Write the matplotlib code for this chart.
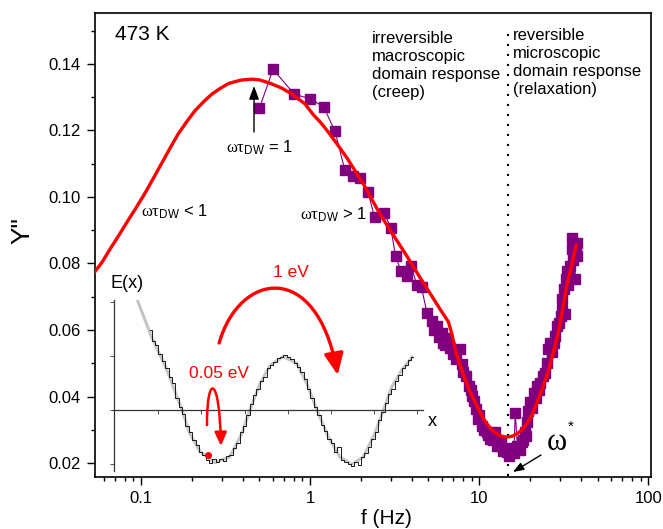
import matplotlib
matplotlib.use('Agg')
import matplotlib.pyplot as plt
from matplotlib.patches import FancyArrowPatch
from matplotlib.path import Path

plt.rcParams['font.family'] = ['Liberation Sans', 'DejaVu Sans']
plt.rcParams['mathtext.fontset'] = 'custom'
plt.rcParams['mathtext.rm'] = 'Liberation Serif'
plt.rcParams['mathtext.it'] = 'Liberation Serif'

# ---------------- data ----------------
freq_data = [0.501, 0.603, 0.804, 1.00, 1.20, 1.40, 1.60, 1.80, 1.98, 2.19, 2.40, 2.74, 2.99,
             3.20, 3.45, 3.76, 3.96, 4.27, 4.55, 4.90, 5.24, 5.40, 5.60, 5.80, 6.00, 6.10, 6.30,
             6.40, 6.70, 7.00, 7.30, 7.70, 7.90, 8.00, 8.30, 8.65, 8.90, 9.06, 9.30, 9.50, 9.85,
             10.0, 10.3, 10.7, 11.1, 11.3, 11.6, 12.0, 12.4, 12.7, 13.0, 13.5, 13.8, 14.2, 14.5,
             14.9, 15.2, 15.6, 16.0, 16.3, 16.8, 17.3, 17.9, 18.2, 18.7, 19.0, 19.2, 19.5, 20.0,
             20.5, 21.0, 21.5, 21.9, 22.5, 22.9, 23.9, 24.5, 25.0, 25.6, 26.3, 26.8, 27.5, 28.1,
             28.8, 29.5, 30.2, 30.8, 31.0, 31.5, 32.3, 32.6, 33.0, 33.5, 34.0, 34.4, 35.2, 35.5,
             36.0, 36.5, 36.7, 37.2, 37.6, 37.8]
y_data = [0.1267, 0.1384, 0.1309, 0.1295, 0.1271, 0.1198, 0.1082, 0.1062, 0.1057, 0.1016, 0.0940,
          0.0951, 0.0908, 0.0822, 0.0776, 0.0762, 0.0792, 0.0735, 0.0728, 0.0652, 0.0627, 0.0600,
          0.0612, 0.0580, 0.0592, 0.0562, 0.0555, 0.0575, 0.0547, 0.0527, 0.0512, 0.0542, 0.0497,
          0.0475, 0.0462, 0.0432, 0.0420, 0.0402, 0.0385, 0.0362, 0.0332, 0.0345, 0.0312, 0.0300,
          0.0292, 0.0285, 0.0272, 0.0270, 0.0292, 0.0252, 0.0250, 0.0262, 0.0235, 0.0242, 0.0232,
          0.0222, 0.0245, 0.0232, 0.0230, 0.0349, 0.0252, 0.0240, 0.0262, 0.0270, 0.0292, 0.0280,
          0.0322, 0.0357, 0.0382, 0.0365, 0.0412, 0.0395, 0.0432, 0.0420, 0.0442, 0.0462, 0.0470,
          0.0502, 0.0542, 0.0562, 0.0535, 0.0560, 0.0582, 0.0612, 0.0620, 0.0642, 0.0692, 0.0660,
          0.0722, 0.0647, 0.0752, 0.0777, 0.0735, 0.0770, 0.0792, 0.0842, 0.0877, 0.0810, 0.0850,
          0.0752, 0.0835, 0.0822, 0.0862]

freq_fit = [0.052, 0.059, 0.0657, 0.074, 0.0827, 0.093, 0.104, 0.117, 0.131, 0.147, 0.165, 0.186,
            0.208, 0.235, 0.262, 0.295, 0.329, 0.38, 0.40, 0.457, 0.50, 0.53, 0.585, 0.68, 0.781,
            0.93, 1.04, 1.17, 1.31, 1.47, 1.65, 1.85, 2.08, 2.33, 2.61, 2.93, 3.29, 3.7, 4.14,
            4.65, 5.22, 5.85, 6.57, 6.9, 7.3, 7.8, 8.7, 9.8, 10.4, 11.0, 11.7, 12.5, 13.3, 14.3,
            15.1, 15.9, 16.9, 17.9, 18.9, 20.0, 21.0, 22.0, 23.6, 25.4, 27.3, 29.3, 31.0, 32.9,
            35.0, 37.4]
y_fit = [0.0768, 0.0805, 0.0844, 0.0885, 0.0925, 0.0966, 0.1006, 0.1052, 0.1097, 0.1143, 0.1188,
         0.1226, 0.1259, 0.1287, 0.1309, 0.1327, 0.1341, 0.1350, 0.1352, 0.1354, 0.1352, 0.1348,
         0.1341, 0.1327, 0.1309, 0.1280, 0.1248, 0.1220, 0.1188, 0.1153, 0.1117, 0.1077, 0.1036,
         0.0990, 0.0945, 0.0905, 0.0865, 0.0825, 0.0784, 0.0743, 0.0703, 0.0663, 0.0624, 0.0585,
         0.0530, 0.0485, 0.0420, 0.0365, 0.0340, 0.0320, 0.0303, 0.0290, 0.0282, 0.0278, 0.0279,
         0.0282, 0.0290, 0.0300, 0.0315, 0.0335, 0.0358, 0.0385, 0.0425, 0.0471, 0.0530, 0.0592,
         0.0660, 0.0733, 0.0790, 0.0855]

omega_star = 14.7

x_ticks = [0.1, 1, 10, 100]
x_ticklabels = ['0.1', '1', '10', '100']
y_ticks = [0.02, 0.04, 0.06, 0.08, 0.10, 0.12, 0.14]

# inset: energy landscape E(x)
inset_x_smooth = [0.35, 0.55, 0.78, 1.0, 1.12, 1.27, 1.49, 1.71, 1.89, 2.01, 2.16, 2.31, 2.5,
                  2.70, 2.85, 3.0, 3.17, 3.34, 3.52, 3.69, 3.86, 3.99, 4.11, 4.26, 4.41]
inset_E_smooth = [2.04, 1.38, 0.75, 0.0, -0.45, -0.79, -1.0, -0.89, -0.45, 0.0, 0.5, 0.84, 1.0,
                  0.88, 0.5, 0.0, -0.51, -0.89, -1.03, -0.89, -0.45, 0.0, 0.43, 0.75, 0.99]
inset_x_noisy = [0.53, 0.58, 0.63, 0.68, 0.73, 0.78, 0.83, 0.88, 0.93, 0.98, 1.03, 1.08, 1.13,
                 1.18, 1.23, 1.28, 1.33, 1.38, 1.43, 1.48, 1.53, 1.58, 1.63, 1.68, 1.73, 1.78,
                 1.83, 1.88, 1.93, 1.98, 2.03, 2.08, 2.13, 2.18, 2.23, 2.28, 2.33, 2.38, 2.43,
                 2.48, 2.53, 2.58, 2.63, 2.68, 2.73, 2.78, 2.83, 2.88, 2.93, 2.98, 3.03, 3.08,
                 3.13, 3.18, 3.23, 3.28, 3.33, 3.38, 3.43, 3.48, 3.53, 3.58, 3.63, 3.68, 3.73,
                 3.78, 3.83, 3.88, 3.93, 3.98, 4.03, 4.08, 4.13, 4.18, 4.23, 4.28, 4.33, 4.38, 4.42]
inset_E_noisy = [1.50, 1.30, 1.22, 1.05, 0.92, 0.78, 0.62, 0.50, 0.22, 0.05, -0.08, -0.30, -0.42,
                 -0.58, -0.66, -0.80, -0.86, -0.95, -1.00, -0.93, -0.98, -0.93, -0.96, -0.88,
                 -0.85, -0.72, -0.62, -0.42, -0.30, -0.10, 0.10, 0.28, 0.40, 0.55, 0.62, 0.78,
                 0.84, 0.90, 0.98, 0.99, 1.03, 1.00, 0.96, 0.88, 0.80, 0.72, 0.58, 0.40, 0.22,
                 0.05, -0.10, -0.28, -0.40, -0.55, -0.62, -0.80, -0.70, -0.95, -0.98, -1.02,
                 -1.06, -0.98, -1.04, -0.90, -0.82, -0.70, -0.55, -0.42, -0.20, -0.05, 0.12,
                 0.30, 0.40, 0.55, 0.66, 0.78, 0.85, 0.93, 1.00]
particle_x, particle_E = [1.39], [-0.85]
inset_xticks = [0.65, 1.29, 1.93, 2.57, 3.21, 3.85, 4.49]
inset_yticks = [-1.02, 0.0, 1.02, 2.04]

# ---------------- figure ----------------
W, H = 663, 529
fig = plt.figure(figsize=(W / 100, H / 100), dpi=100)


def fx(x):
    return x / W


def fy(y):
    return 1 - y / H


purple = '#800080'
ax = fig.add_axes([95 / W, 1 - 477 / H, 555.5 / W, 464 / H])
ax.plot(freq_data, y_data, '-', color=purple, lw=0.8, zorder=2)
ax.plot(freq_data, y_data, 's', color=purple, ms=6.7, mec=purple, ls='none', zorder=3)
ax.plot(freq_fit, y_fit, color='red', lw=2.4, zorder=4, solid_joinstyle='round')
ax.vlines(omega_star, 0.0161, 0.151, colors='k', linestyles=(0, (1, 3.8)), lw=1.5, zorder=1)

ax.set_xscale('log')
ax.set_xticks(x_ticks)
ax.set_xticklabels(x_ticklabels)
ax.set_xticks([k * d for d in (0.01, 0.1, 1, 10) for k in range(2, 10)], minor=True)
ax.set_yticks(y_ticks)
ax.set_yticklabels(['%.2f' % v for v in y_ticks])
ax.set_yticks([0.03, 0.05, 0.07, 0.09, 0.11, 0.13, 0.15], minor=True)
ax.set_xlim(0.0534, 102.8)
ax.set_ylim(0.0158, 0.1553)
ax.tick_params(which='both', direction='out', top=False, right=False, labelsize=12, width=1)
ax.tick_params(which='major', length=6, pad=4)
ax.tick_params(which='minor', length=3)
for s in ax.spines.values():
    s.set_linewidth(1.2)

ax.set_xlabel('f (Hz)', fontsize=15)
ax.xaxis.set_label_coords((386.7 - 95) / 555.5, (477 - 518) / 464)
ax.xaxis.label.set_va('center')
ax.set_ylabel('Y"', fontsize=19)
ax.yaxis.set_label_coords((22 - 95) / 555.5, (477 - 231) / 464)
ax.yaxis.label.set_va('center')
ax.yaxis.label.set_ha('center')

# annotations
wt = r'$\mathrm{\omega\tau}_{\mathregular{DW}}$'
fig.text(fx(115), fy(35), '473 K', fontsize=15, va='center', ha='left')
fig.text(fx(372), fy(31), 'irreversible\nmacroscopic\ndomain response\n(creep)',
         fontsize=12, va='top', ha='left', linespacing=1.25)
fig.text(fx(513), fy(28), 'reversible\nmicroscopic\ndomain response\n(relaxation)',
         fontsize=12, va='top', ha='left', linespacing=1.25)
fig.text(fx(226), fy(148), wt + ' = 1', fontsize=12, va='center', ha='left')
fig.text(fx(141), fy(212), wt + ' < 1', fontsize=12, va='center', ha='left')
fig.text(fx(300), fy(215), wt + ' > 1', fontsize=12, va='center', ha='left')
ax.annotate('', xy=(fx(254), fy(86)), xytext=(fx(254), fy(132)), xycoords='figure fraction',
            arrowprops=dict(arrowstyle='-|>,head_length=0.8,head_width=0.3', color='k', lw=1,
                            shrinkA=0, shrinkB=0, mutation_scale=10))
fig.text(fx(557), fy(443), 'ω', fontsize=22, va='center', ha='center', family='Liberation Serif')
fig.text(fx(571), fy(427), '*', fontsize=11, va='center', ha='center')
ax.annotate('', xy=(fx(513), fy(472)), xytext=(fx(541), fy(455)), xycoords='figure fraction',
            arrowprops=dict(arrowstyle='-|>,head_length=0.8,head_width=0.3', color='k', lw=1,
                            shrinkA=0, shrinkB=0, mutation_scale=8))

# ---------------- inset ----------------
axi = fig.add_axes([108 / W, 1 - 475 / H, 322 / W, 190 / H])
axi.patch.set_alpha(0)
axi.set_xticks(inset_xticks)
axi.set_yticks(inset_yticks)
axi.set_xlim(-0.093, 4.677)
axi.set_ylim(-1.232, 2.353)
for k in ('top', 'right'):
    axi.spines[k].set_visible(False)
axi.spines['left'].set_position(('data', 0))
axi.spines['bottom'].set_position(('data', 0))
axi.spines['left'].set_bounds(-1.15, 2.07)
axi.spines['bottom'].set_bounds(-0.024, 4.57)
for k in ('left', 'bottom'):
    axi.spines[k].set_linewidth(0.9)
    axi.spines[k].set_color('#333333')
axi.tick_params(direction='out', length=3, width=0.6, colors='#333333',
                labelbottom=False, labelleft=False)

axi.plot(inset_x_smooth, inset_E_smooth, color='#c4c4c4', lw=2.2, zorder=2)
axi.plot(inset_x_noisy, inset_E_noisy, color='#1a1a1a', lw=0.7, drawstyle='steps-mid', zorder=3)
axi.plot(particle_x, particle_E, 'o', color='red', ms=4, zorder=4)

big = Path([(1.554, 1.258), (1.85, 2.6), (3.0, 2.85), (3.31, 0.655)],
           [Path.MOVETO, Path.CURVE4, Path.CURVE4, Path.CURVE4])
axi.add_patch(FancyArrowPatch(path=big, arrowstyle='-|>,head_length=1.0,head_width=0.45',
                              mutation_scale=13, color='red', lw=2.4, transform=axi.transData,
                              clip_on=False, zorder=5))
small = Path([(1.373, -0.29), (1.37, 0.68), (1.56, 0.68), (1.58, -0.685)],
             [Path.MOVETO, Path.CURVE4, Path.CURVE4, Path.CURVE4])
axi.add_patch(FancyArrowPatch(path=small, arrowstyle='-|>,head_length=0.9,head_width=0.4',
                              mutation_scale=9, color='red', lw=1.8, transform=axi.transData,
                              clip_on=False, zorder=5))

fig.text(fx(127), fy(283), 'E(x)', fontsize=13, va='center', ha='center')
fig.text(fx(432), fy(422), 'x', fontsize=13, va='center', ha='center')
fig.text(fx(290.5), fy(272.7), '1 eV', fontsize=12.5, color='red', va='center', ha='center')
fig.text(fx(219.3), fy(373.3), '0.05 eV', fontsize=12.5, color='red', va='center', ha='center')

fig.savefig('out.png', dpi=100)
